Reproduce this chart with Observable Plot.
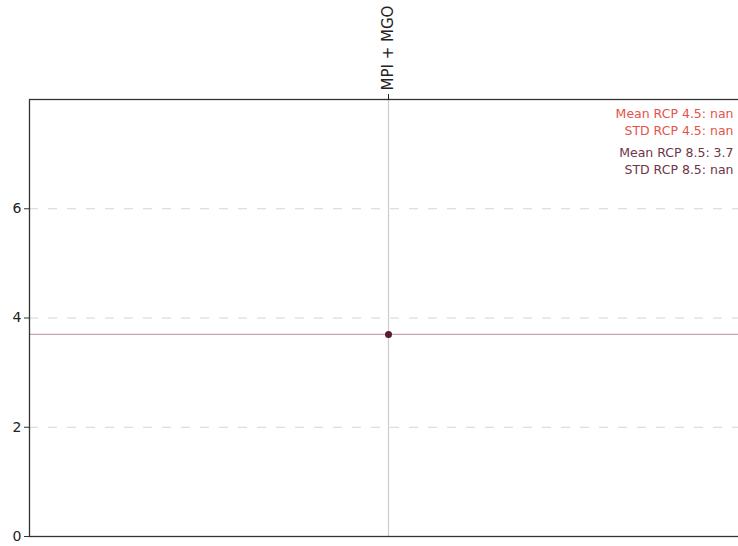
<!DOCTYPE html>
<html><head><meta charset="utf-8">
<script src="https://cdn.jsdelivr.net/npm/d3@7"></script>
<script src="https://cdn.jsdelivr.net/npm/@observablehq/plot@0.6"></script>
<style>body{margin:0;background:#fff;overflow:hidden} svg{overflow:hidden}</style>
</head><body><div id="chart"></div>
<script>
const categories = ["MPI + MGO"];
const rcp85Values = [3.7];
const yTicks = [0, 2, 4, 6];
const gridTicks = [2, 4, 6];
const annotations = ["Mean RCP 4.5: nan", "STD RCP 4.5: nan", "Mean RCP 8.5: 3.7", "STD RCP 8.5: nan"];
const annotationColors = ["#e5534b", "#e5534b", "#6e3548", "#6e3548"];
const annotationOffsets = [14, 31, 53, 70];

const data = categories.map((c, i) => ({cat: c, v: rcp85Values[i]}));

const chart = Plot.plot({
  width: 738,
  height: 546,
  marginLeft: 29,
  marginRight: -3,
  marginTop: 99,
  marginBottom: 10,
  style: {fontFamily: "DejaVu Sans", background: "#fff"},
  x: {type: "point", domain: categories, range: [29, 747]},
  y: {domain: [0, 8]},
  marks: [
    Plot.gridY(gridTicks, {stroke: "#d4d4d4", strokeOpacity: 1, strokeDasharray: "9,10"}),
    Plot.ruleX(categories, {stroke: "#ccc", strokeWidth: 1.2}),
    Plot.ruleY(rcp85Values, {stroke: "#c9a3ad", strokeWidth: 1.4}),
    Plot.dot(data, {x: "cat", y: "v", r: 3.5, fill: "#5a1a30", stroke: "none"}),
    Plot.frame({stroke: "#333", strokeWidth: 1.3}),
    Plot.axisY({ticks: yTicks, label: null, tickSize: 5, tickPadding: 3, fontSize: 14, stroke: "#333", color: "#222"}),
    Plot.axisX({anchor: "top", tickRotate: -90, label: null, tickSize: 6, tickPadding: 3, fontSize: 15, color: "#222"}),
    ...annotations.map((t, i) => Plot.text([t], {
      frameAnchor: "top-right", text: d => d, dx: -8, dy: annotationOffsets[i],
      textAnchor: "end", lineAnchor: "middle", fill: annotationColors[i], fontSize: 12.5
    }))
  ]
});
document.getElementById("chart").appendChild(chart);
</script>
</body></html>
